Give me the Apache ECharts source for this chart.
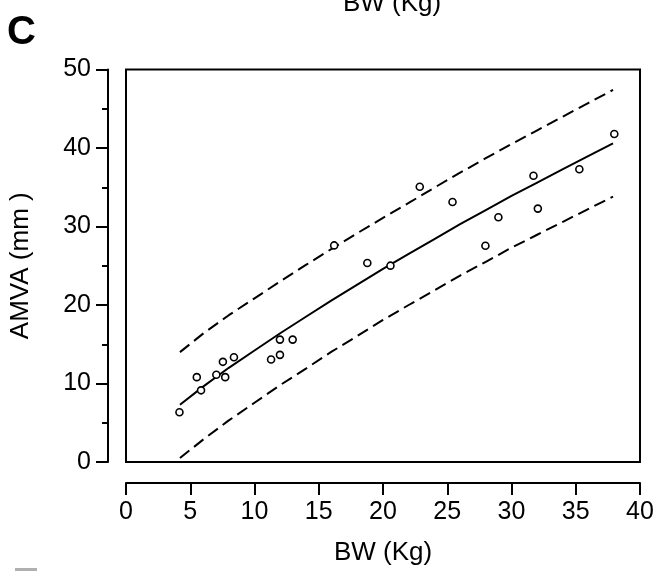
<!DOCTYPE html>
<html>
<head>
<meta charset="utf-8">
<script src="https://cdn.jsdelivr.net/npm/echarts@6/dist/echarts.min.js"></script>
<style>
html,body{margin:0;padding:0;background:#fff;}
#c{width:663px;height:571px;}
</style>
</head>
<body>
<div id="c"></div>
<script>
// Observed data points: body weight (kg) vs AMVA (mm)
var bwValues = [4.16, 5.51, 5.84, 7.03, 7.54, 7.72, 8.40, 11.29, 11.98, 11.98, 12.97,
                16.20, 18.78, 20.58, 22.86, 25.41, 27.97, 28.98, 31.71, 32.05, 35.28, 38.0];
var amvaValues = [6.34, 10.81, 9.13, 11.12, 12.76, 10.81, 13.35, 13.05, 13.65, 15.59, 15.59,
                  27.59, 25.35, 25.01, 35.07, 33.12, 27.54, 31.18, 36.46, 32.28, 37.30, 41.79];

// Fitted curve and prediction bands
var curveX = [4.2, 6, 8, 10, 12, 14, 16, 18, 20, 22, 24, 26, 28, 30, 32, 34, 36, 37.9];
var fitY   = [7.3, 9.6, 12.0, 14.2, 16.4, 18.5, 20.6, 22.6, 24.6, 26.5, 28.4, 30.3, 32.1, 33.9, 35.6, 37.3, 39.0, 40.6];
var upperY = [14.0, 16.35, 18.7, 20.85, 23.0, 25.1, 27.15, 29.15, 31.1, 33.0, 34.95, 36.85, 38.7, 40.5, 42.25, 44.0, 45.75, 47.4];
var lowerY = [0.5, 2.85, 5.3, 7.55, 9.8, 11.9, 14.05, 16.05, 18.1, 20.0, 21.85, 23.75, 25.5, 27.3, 28.95, 30.6, 32.25, 33.8];

// Axis settings
var xTickInterval = 5, xMin = 0, xMax = 40;
var yTickInterval = 10, yMin = 0, yMax = 50;

function pairs(xs, ys) {
  var out = [];
  for (var i = 0; i < xs.length; i++) out.push([xs[i], ys[i]]);
  return out;
}

var FONT = '"Liberation Sans", Arial, sans-serif';
var chart = echarts.init(document.getElementById('c'), null, {renderer: 'canvas'});
chart.setOption({
  backgroundColor: '#fff',
  animation: false,
  grid: {
    left: 124, right: 23, top: 69.5, bottom: 107,
    show: true, borderColor: '#000', borderWidth: 2, backgroundColor: 'transparent'
  },
  xAxis: {
    type: 'value', min: xMin, max: xMax, interval: xTickInterval,
    offset: 21,
    axisLine: {show: true, onZero: false, lineStyle: {color: '#000', width: 2}},
    axisTick: {show: true, inside: false, length: 12, lineStyle: {color: '#000', width: 2}},
    axisLabel: {show: true, color: '#000', fontSize: 25, fontFamily: FONT, margin: 17, hideOverlap: false},
    splitLine: {show: false},
    name: 'BW (Kg)', nameLocation: 'middle', nameGap: 57,
    nameTextStyle: {color: '#000', fontSize: 26, fontFamily: FONT}
  },
  yAxis: {
    type: 'value', min: yMin, max: yMax, interval: yTickInterval,
    offset: 18,
    axisLine: {show: true, onZero: false, lineStyle: {color: '#000', width: 2}},
    axisTick: {show: true, inside: false, length: 12, lineStyle: {color: '#000', width: 2}},
    minorTick: {show: true, splitNumber: 2, length: 6, lineStyle: {color: '#000', width: 2}},
    axisLabel: {show: true, color: '#000', fontSize: 25, fontFamily: FONT, margin: 17, hideOverlap: false},
    splitLine: {show: false},
    minorSplitLine: {show: false},
    name: 'AMVA (mm )', nameLocation: 'middle', nameGap: 74, nameRotate: 90,
    nameTextStyle: {color: '#000', fontSize: 26, fontFamily: FONT}
  },
  series: [
    {
      type: 'line', data: pairs(curveX, upperY), symbol: 'none', smooth: false,
      lineStyle: {color: '#000', width: 2, type: [12, 6]}, z: 2, silent: true
    },
    {
      type: 'line', data: pairs(curveX, fitY), symbol: 'none', smooth: false,
      lineStyle: {color: '#000', width: 2, type: 'solid'}, z: 2, silent: true
    },
    {
      type: 'line', data: pairs(curveX, lowerY), symbol: 'none', smooth: false,
      lineStyle: {color: '#000', width: 2, type: [12, 6]}, z: 2, silent: true
    },
    {
      type: 'scatter', data: pairs(bwValues, amvaValues),
      symbol: 'circle', symbolSize: 7,
      itemStyle: {color: '#fff', borderColor: '#000', borderWidth: 1.6, opacity: 1},
      z: 5, silent: true
    }
  ],
  graphic: [
    {type: 'text', left: 7, top: 13, style: {text: 'C', fontSize: 40, fontWeight: 'bold', fontFamily: FONT, fill: '#000'}},
    {type: 'text', x: 392, y: 4, style: {text: 'BW (Kg)', fontSize: 26, fontFamily: FONT, fill: '#000', align: 'center', verticalAlign: 'middle'}},
    {type: 'rect', shape: {x: 15, y: 568, width: 22, height: 3}, style: {fill: '#b0b0b0'}}
  ]
});
</script>
</body>
</html>
